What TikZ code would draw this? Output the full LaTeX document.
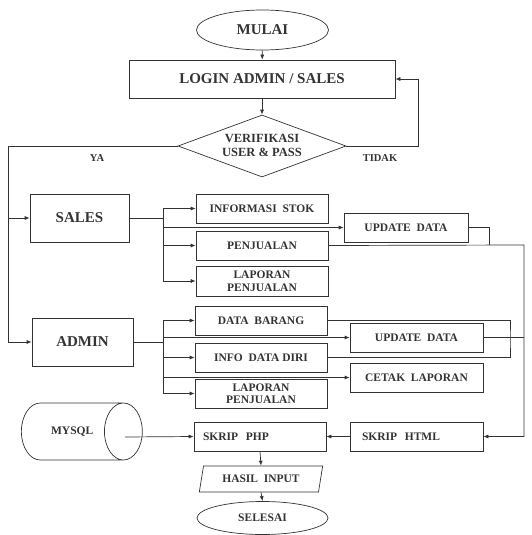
\documentclass[tikz,border=0pt]{standalone}
\usepackage{fontspec}
\setmainfont{Liberation Serif}
\usetikzlibrary{shapes.geometric,arrows.meta}
\begin{document}
\begin{tikzpicture}[x=1pt,y=-1pt,
  line width=0.7pt,
  color=black!80,
  fnt/.style={font=\fontsize{11.5}{12.5}\selectfont\bfseries},
  bigfnt/.style={font=\fontsize{15}{17}\selectfont\bfseries},
  box/.style={draw, rectangle, minimum width=132pt, minimum height=29pt, inner sep=0pt, align=center, fnt},
  term/.style={draw, ellipse, inner sep=0pt, align=center},
  arr/.style={-{Latex[length=5pt,width=4pt]}},
  lbl/.style={font=\fontsize{10.5}{12}\selectfont\bfseries}
]
\useasboundingbox (0,0) rectangle (531,535);

% top
\node[term, bigfnt, minimum width=132pt, minimum height=40pt] (mulai) at (262.5,30) {MULAI};
\node[box, bigfnt, minimum width=266pt, minimum height=38pt] (login) at (262,79) {LOGIN ADMIN / SALES};
\node[diamond, draw, minimum width=168pt, minimum height=62pt, inner sep=0pt] (verif) at (262,146) {};
\node[align=center, font=\fontsize{12.5}{14}\selectfont\bfseries] (veriftext) at (262,145) {VERIFIKASI\\USER \& PASS};
\node[lbl] (ya) at (97,158) {YA};
\node[lbl] (tidak) at (380,158) {TIDAK};

% sales branch
\node[box, bigfnt, minimum width=99pt, minimum height=48pt] (sales) at (79.5,218) {SALES};
\node[box] (info) at (262,208.5) {INFORMASI\ \ STOK};
\node[box] (penj1) at (262,245.5) {PENJUALAN};
\node[box, minimum height=30pt] (lap1) at (262,281) {LAPORAN\\PENJUALAN};
\node[box, minimum width=124pt] (upd1) at (406,227.5) {UPDATE\ \ DATA};

% admin branch
\node[box, bigfnt, minimum width=101pt, minimum height=48pt] (admin) at (82.5,342) {ADMIN};
\node[box] (datab) at (261,320.5) {DATA\ \ BARANG};
\node[box] (infod) at (261,357.5) {INFO\ \ DATA\ DIRI};
\node[box] (lap2) at (261,393.5) {LAPORAN\\PENJUALAN};
\node[box, minimum width=133pt] (upd2) at (416.5,337.5) {UPDATE\ \ DATA};
\node[box, minimum width=133pt] (cetak) at (416.5,377.5) {CETAK\ \ LAPORAN};

% bottom
\node[cylinder, draw, shape aspect=4, minimum height=121pt, minimum width=57pt, inner sep=0pt, fnt, anchor=west] (mysql) at (21,431.5) {MYSQL};
\node[box, text width=114pt, inner xsep=9pt, align=left] (php) at (260,436.5) {SKRIP\ \ PHP};
\node[box, minimum width=133pt, text width=109pt, inner xsep=12pt, align=left] (html) at (416.5,436.5) {SKRIP\ \ HTML};
\node[trapezium, draw, trapezium left angle=70, trapezium right angle=110, trapezium stretches=true, minimum width=124pt, minimum height=26pt, inner sep=0pt, fnt] (hasil) at (261,479) {HASIL\ \ INPUT};
\node[term, fnt, minimum width=131pt, minimum height=33pt] (selesai) at (262.5,518) {SELESAI};

% coordinates
\coordinate (yl) at (8,146);
\coordinate (tr) at (418,146);
\coordinate (sb) at (163,218);
\coordinate (ab) at (163,342);
\coordinate (u1j) at (489,245);
\coordinate (rv) at (524,245);
\coordinate (dj) at (510,339);
\coordinate (myend) at (125,437);

% connectors
\draw[arr] (mulai) -- (login);
\draw[arr] (login) -- (verif.north);
\draw[arr] (verif.west) -- (yl) |- (admin.west);
\draw[arr] (yl |- sales.west) -- (sales.west);
\draw[arr] (verif.east) -- (tr) |- (login.east);

\draw (sales.east) -- (sb);
\draw[arr] (sb) |- (info.west);
\draw[arr] (sb) |- (penj1.west);
\draw[arr] (sb) |- (lap1.west);
\draw[arr] (sb |- upd1.west) -- (upd1.west);
\draw (upd1.east) -| (u1j);
\draw[arr] (penj1.east) -- (rv) |- (html.east);

\draw (admin.east) -- (ab);
\draw[arr] (ab) |- (datab.west);
\draw[arr] (ab) |- (infod.west);
\draw[arr] (ab) |- (lap2.west);
\draw[arr] (ab |- upd2.west) -- (upd2.west);
\draw[arr] (ab |- cetak.west) -- (cetak.west);
\draw (datab.east) -| (dj) |- (infod.east);
\draw (upd2.east) -- (rv |- upd2.east);

\draw[arr] (myend) -- (php.west);
\draw[arr] (html.west) -- (php.east);
\draw[arr] (php.south) -- (hasil.north);
\draw[arr] (hasil.south) -- (selesai.north);
\end{tikzpicture}
\end{document}
